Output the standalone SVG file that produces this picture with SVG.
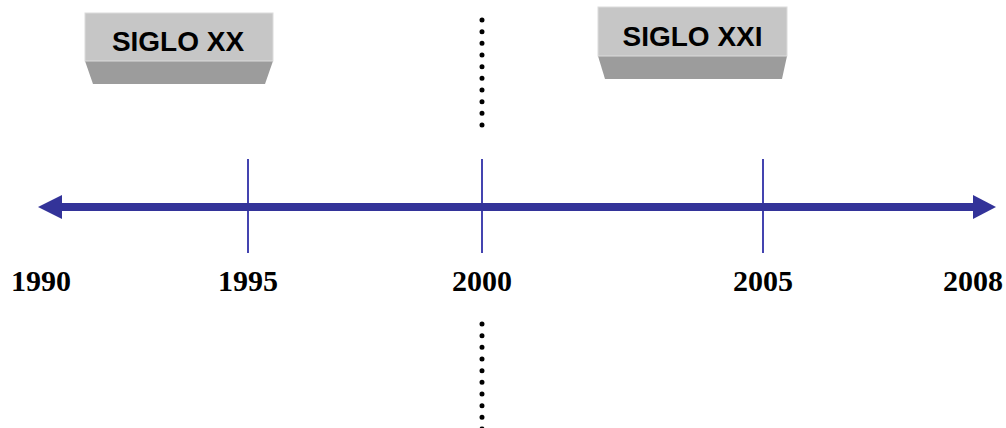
<svg xmlns="http://www.w3.org/2000/svg" width="1006" height="428" viewBox="0 0 1006 428">
<style>
.front{fill:#c6c6c6;stroke:#dcdcdc;stroke-width:1}
.bottom{fill:#9c9c9c}
.label{font-family:"Liberation Sans",Arial,sans-serif;font-weight:bold;font-size:28px;fill:#000;text-anchor:middle}
.year{font-family:"Liberation Serif","Times New Roman",serif;font-weight:bold;font-size:30px;fill:#000;text-anchor:middle}
.tick{stroke:#4444b0;stroke-width:2}
.dots{stroke:#000;stroke-width:5;stroke-linecap:round;stroke-dasharray:0 11.67;fill:none}
</style>
<rect width="1006" height="428" fill="#fff"/>
<g id="siglo-xx">
<polygon class="bottom" points="85,61 273,61 265,84 93,84"/>
<rect class="front" x="85" y="13" width="188" height="48"/>
<text class="label" x="178" y="51">SIGLO XX</text>
</g>
<g id="siglo-xxi">
<polygon class="bottom" points="598,56 787,56 782,79 605,79"/>
<rect class="front" x="598" y="7" width="189" height="49"/>
<text class="label" x="692.5" y="46">SIGLO XXI</text>
</g>
<g id="connectors">
<line class="dots" x1="482" y1="20" x2="482" y2="126"/>
<line class="dots" x1="482" y1="324" x2="482" y2="430"/>
<line class="tick" x1="248" y1="159" x2="248" y2="253"/>
<line class="tick" x1="482" y1="159" x2="482" y2="253"/>
<line class="tick" x1="763" y1="159" x2="763" y2="253"/>
<line x1="60" y1="207" x2="975" y2="207" stroke="#333399" stroke-width="8"/>
<polygon points="38,207 62,195 62,219" fill="#333399"/>
<polygon points="996,207 973,195 973,219" fill="#333399"/>
</g>
<g id="years">
<text class="year" x="41" y="291">1990</text>
<text class="year" x="248" y="291">1995</text>
<text class="year" x="482" y="291">2000</text>
<text class="year" x="763" y="291">2005</text>
<text class="year" x="973" y="291">2008</text>
</g>
</svg>
